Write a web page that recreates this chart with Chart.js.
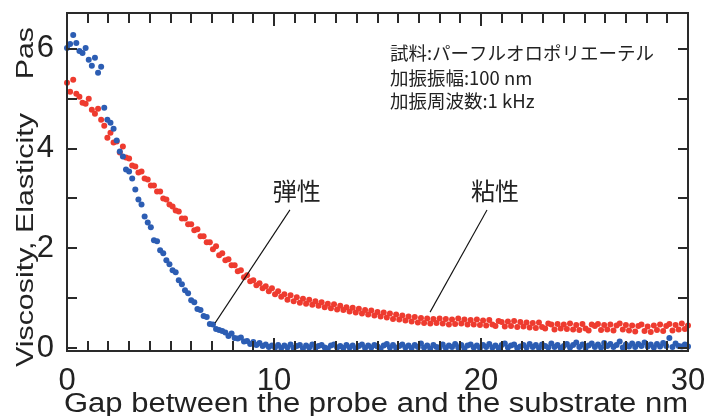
<!DOCTYPE html>
<html>
<head>
<meta charset="utf-8">
<script src="https://cdn.jsdelivr.net/npm/chart.js@4/dist/chart.umd.min.js"></script>
<style>
  body { margin: 0; background: #fff; }
  #wrap { width: 715px; height: 416px; }
</style>
</head>
<body>
<div id="wrap"><canvas id="chart" width="715" height="416"></canvas></div>
<script>
// Gap between probe and substrate (nm)
const gap = [
  0,0.15,0.3,0.45,0.6,0.75,0.9,1.05,1.2,1.35,
  1.5,1.65,1.8,1.95,2.1,2.25,2.4,2.55,2.7,2.85,
  3,3.15,3.3,3.45,3.6,3.75,3.9,4.05,4.2,4.35,
  4.5,4.65,4.8,4.95,5.1,5.25,5.4,5.55,5.7,5.85,
  6,6.15,6.3,6.45,6.6,6.75,6.9,7.05,7.2,7.35,
  7.5,7.65,7.8,7.95,8.1,8.25,8.4,8.55,8.7,8.85,
  9,9.15,9.3,9.45,9.6,9.75,9.9,10.05,10.2,10.35,
  10.5,10.65,10.8,10.95,11.1,11.25,11.4,11.55,11.7,11.85,
  12,12.15,12.3,12.45,12.6,12.75,12.9,13.05,13.2,13.35,
  13.5,13.65,13.8,13.95,14.1,14.25,14.4,14.55,14.7,14.85,
  15,15.15,15.3,15.45,15.6,15.75,15.9,16.05,16.2,16.35,
  16.5,16.65,16.8,16.95,17.1,17.25,17.4,17.55,17.7,17.85,
  18,18.15,18.3,18.45,18.6,18.75,18.9,19.05,19.2,19.35,
  19.5,19.65,19.8,19.95,20.1,20.25,20.4,20.55,20.7,20.85,
  21,21.15,21.3,21.45,21.6,21.75,21.9,22.05,22.2,22.35,
  22.5,22.65,22.8,22.95,23.1,23.25,23.4,23.55,23.7,23.85,
  24,24.15,24.3,24.45,24.6,24.75,24.9,25.05,25.2,25.35,
  25.5,25.65,25.8,25.95,26.1,26.25,26.4,26.55,26.7,26.85,
  27,27.15,27.3,27.45,27.6,27.75,27.9,28.05,28.2,28.35,
  28.5,28.65,28.8,28.95,29.1,29.25,29.4,29.55,29.7,29.85,
  30
];

// 弾性 (blue)
const elasticity = [
  6.02,6.1,6.28,6.12,5.96,5.92,6.02,5.78,5.66,5.82,
  5.52,5.64,4.82,4.58,4.52,4.4,4.16,3.94,3.84,3.58,
  3.54,3.4,3.18,2.98,2.88,2.64,2.52,2.42,2.16,2.14,
  1.96,1.9,1.76,1.68,1.56,1.52,1.36,1.28,1.16,1.1,
  0.96,0.92,0.78,0.76,0.64,0.62,0.48,0.47,0.38,0.36,
  0.34,0.31,0.24,0.29,0.2,0.19,0.21,0.13,0.14,0.08,
  0.12,0.06,0.1,0.04,0.07,0.02,0.05,0.01,0.06,0.0,
  0.05,0.01,0.07,0.0,0.04,0.06,-0.01,0.05,0.01,0.07,
  0.0,0.04,0.06,0.01,-0.01,0.05,0.07,0.01,0.04,0.0,
  0.06,0.01,0.05,-0.01,0.04,0.07,0.0,0.05,0.01,0.06,
  0.03,-0.01,0.05,0.08,0.01,0.06,0.0,0.04,0.07,0.01,
  0.05,0.0,0.06,0.02,0.09,0.01,0.05,-0.01,0.06,0.02,
  0.01,0.07,0.0,0.05,0.02,0.08,0.01,0.06,-0.01,0.05,
  0.07,0.01,0.05,0.0,0.06,0.02,0.08,0.01,0.05,0.0,
  0.06,0.09,0.01,0.05,0.07,0.0,0.03,0.06,0.01,0.08,
  0.02,0.06,0.0,0.07,0.04,0.01,0.09,0.02,0.06,0.0,
  0.04,0.08,0.01,0.06,0.11,0.02,0.07,0.0,0.05,0.09,
  0.02,0.07,0.01,0.1,0.04,0.08,0.02,0.06,0.13,0.01,
  0.07,0.03,0.09,0.02,0.08,0.04,0.11,0.03,0.07,0.01,
  0.08,0.03,0.1,0.04,0.2,0.02,0.09,0.04,0.03,0.07,
  0.03
];

// 粘性 (red)
const viscosity = [
  5.32,5.14,5.38,5.1,5.04,4.92,4.9,5.0,4.78,4.7,
  4.8,4.58,4.46,4.22,4.32,4.12,4.14,3.92,4.04,3.82,
  3.8,3.66,3.64,3.52,3.54,3.4,3.38,3.26,3.26,3.14,
  3.14,3.0,2.98,2.88,2.84,2.76,2.74,2.6,2.6,2.48,
  2.48,2.36,2.38,2.24,2.24,2.12,2.12,1.98,2.04,1.86,
  1.9,1.76,1.78,1.66,1.66,1.54,1.56,1.42,1.46,1.34,
  1.36,1.26,1.3,1.2,1.24,1.14,1.2,1.08,1.14,1.03,
  1.08,0.97,1.06,0.94,1.02,0.91,0.99,0.89,0.97,0.87,
  0.94,0.85,0.92,0.82,0.89,0.8,0.88,0.77,0.85,0.76,
  0.82,0.73,0.81,0.71,0.79,0.69,0.76,0.67,0.75,0.65,
  0.72,0.63,0.71,0.61,0.69,0.58,0.67,0.57,0.65,0.55,
  0.63,0.53,0.62,0.51,0.6,0.5,0.59,0.49,0.58,0.5,
  0.59,0.49,0.58,0.47,0.57,0.48,0.59,0.49,0.57,0.47,
  0.56,0.47,0.57,0.46,0.55,0.45,0.56,0.47,0.44,0.54,
  0.52,0.43,0.53,0.44,0.54,0.42,0.52,0.43,0.51,0.41,
  0.5,0.4,0.51,0.42,0.39,0.49,0.47,0.37,0.48,0.39,
  0.47,0.38,0.49,0.37,0.46,0.36,0.48,0.39,0.35,0.47,
  0.44,0.48,0.36,0.46,0.37,0.47,0.35,0.45,0.49,0.37,
  0.46,0.35,0.45,0.33,0.44,0.47,0.34,0.43,0.32,0.45,
  0.36,0.47,0.34,0.44,0.48,0.35,0.46,0.37,0.49,0.38,
  0.45
];

const xTicks = [0, 10, 20, 30];
const yTicks = [0, 2, 4, 6];

const xTitle = 'Gap between the probe and the substrate nm';
const yTitle = 'Viscosity, Elasticity    Pas';
const notes = ['試料:パーフルオロポリエーテル', '加振振幅:100 nm', '加振周波数:1 kHz'];
// callout labels: text, label position, line start, line end (data units)
const callouts = [
  { text: '弾性', at: [11.1, 3.15], from: [10.77, 2.77], to: [7.15, 0.5] },
  { text: '粘性', at: [20.68, 3.15], from: [20.29, 2.77], to: [17.54, 0.72] }
];

const toPoints = (ys) => ys.map((v, i) => ({ x: gap[i], y: v }));

// frame, inward ticks, titles and notes
const framePlugin = {
  id: 'frame',
  afterDraw(chart) {
    const { ctx, chartArea: a, scales: { x, y } } = chart;
    ctx.save();
    ctx.strokeStyle = '#2a2a2a';
    ctx.lineWidth = 2;
    ctx.strokeRect(a.left, a.top, a.right - a.left, a.bottom - a.top);

    // minor + major ticks pointing inward, on all four sides
    ctx.fillStyle = '#2a2a2a';
    const xSpan = x.max - x.min;
    for (let k = 0; k <= 30; k++) {
      const v = x.min + xSpan * k / 30;
      const px = Math.round(a.left + (a.right - a.left) * (v - x.min) / xSpan) - 1;
      const len = k % 10 === 0 ? 13 : 10;
      ctx.fillRect(px, a.bottom - len, 2, len);
      ctx.fillRect(px, a.top, 2, len);
    }
    for (let v = 0; v <= 6; v++) {
      const py = Math.round(y.getPixelForValue(v)) - 1;
      ctx.fillRect(a.left, py, 10, 2);
      ctx.fillRect(a.right - 10, py, 10, 2);
    }

    // callouts
    ctx.lineWidth = 1.1;
    ctx.strokeStyle = '#111';
    ctx.fillStyle = '#222';
    ctx.font = '24px "Noto Sans CJK JP"';
    ctx.textAlign = 'center';
    ctx.textBaseline = 'middle';
    callouts.forEach(c => {
      ctx.beginPath();
      ctx.moveTo(x.getPixelForValue(c.from[0]), y.getPixelForValue(c.from[1]));
      ctx.lineTo(x.getPixelForValue(c.to[0]), y.getPixelForValue(c.to[1]));
      ctx.stroke();
      ctx.fillText(c.text, x.getPixelForValue(c.at[0]), y.getPixelForValue(c.at[1]));
    });

    // sample notes
    ctx.font = '18.5px "Noto Sans CJK JP"';
    ctx.textAlign = 'left';
    const nx = x.getPixelForValue(15.6);
    [5.92, 5.42, 4.96].forEach((v, i) => ctx.fillText(notes[i], nx, y.getPixelForValue(v)));

    // x title, squeezed to the plot width
    ctx.font = '27px "Liberation Sans", Arial, sans-serif';
    ctx.textBaseline = 'alphabetic';
    const w = ctx.measureText(xTitle).width;
    ctx.save();
    ctx.translate(64, 412);
    ctx.scale(624 / w, 1);
    ctx.fillText(xTitle, 0, 0);
    ctx.restore();

    // y title, rotated
    ctx.font = '30.4px "Liberation Sans", Arial, sans-serif';
    ctx.save();
    ctx.translate(33, 367);
    ctx.rotate(-Math.PI / 2);
    ctx.scale(1, 0.78);
    ctx.fillText(yTitle, 0, 0);
    ctx.restore();
    ctx.restore();
  }
};

const tickFont = { family: '"Liberation Sans Narrow", "Liberation Sans", Arial, sans-serif', size: 31 };

new Chart(document.getElementById('chart'), {
  type: 'scatter',
  data: {
    datasets: [
      {
        label: '弾性',
        data: toPoints(elasticity),
        backgroundColor: '#2c5db3',
        borderWidth: 0,
        pointRadius: 3,
        clip: false
      },
      {
        label: '粘性',
        data: toPoints(viscosity),
        backgroundColor: '#ee3b2f',
        borderWidth: 0,
        pointRadius: 3,
        clip: false
      }
    ]
  },
  options: {
    responsive: false,
    devicePixelRatio: 1,
    animation: false,
    layout: { padding: { top: 13, right: 27, left: 0, bottom: 0 } },
    plugins: { legend: { display: false }, tooltip: { enabled: false } },
    scales: {
      x: {
        type: 'linear',
        min: 0,
        max: 30,
        grid: { display: false },
        border: { display: false },
        afterBuildTicks: s => { s.ticks = xTicks.map(v => ({ value: v })); },
        afterFit: s => { s.height = 65; s.paddingLeft = 0; s.paddingRight = 0; },
        ticks: { color: '#222', font: tickFont, padding: 4, maxRotation: 0 }
      },
      y: {
        type: 'linear',
        min: -0.06,
        max: 6.72,
        grid: { display: false },
        border: { display: false },
        afterBuildTicks: s => { s.ticks = yTicks.map(v => ({ value: v })); },
        afterFit: s => { s.width = 67; s.paddingTop = 0; s.paddingBottom = 0; },
        ticks: { color: '#222', font: tickFont, padding: 5 }
      }
    }
  },
  plugins: [framePlugin]
});
</script>
</body>
</html>
